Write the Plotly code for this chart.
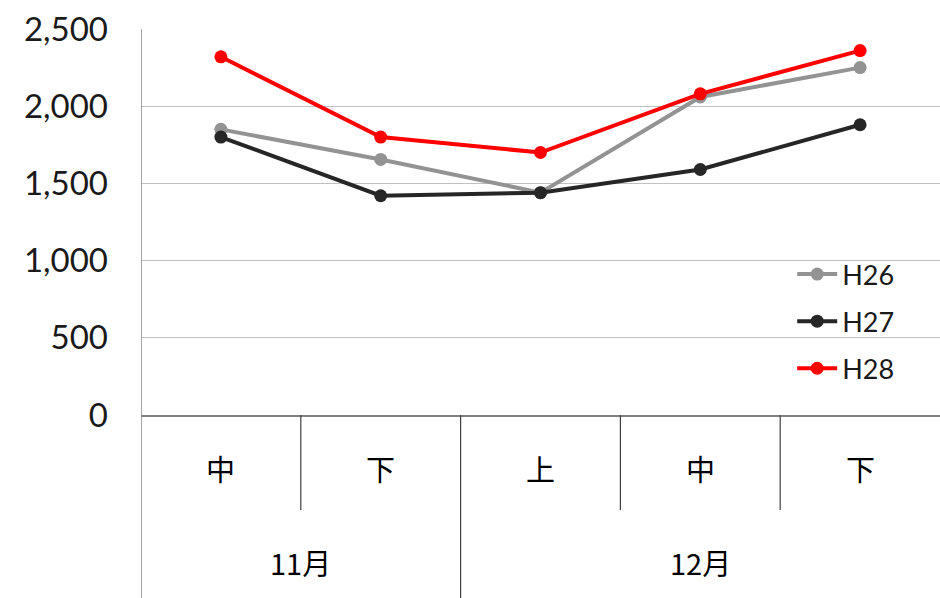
import plotly.graph_objects as go

sub_labels = ["中", "下", "上", "中", "下"]
month_labels = ["11月", "12月"]
month_spans = [(0, 1), (2, 4)]
series_names = ["H26", "H27", "H28"]
h26 = [1850, 1655, 1440, 2060, 2250]
h27 = [1800, 1420, 1440, 1590, 1880]
h28 = [2320, 1800, 1700, 2080, 2360]
colors = ["#939393", "#262626", "#ff0000"]

x = list(range(len(sub_labels)))
fig = go.Figure()
for i, (name, vals) in enumerate(zip(series_names, [h26, h27, h28])):
    fig.add_trace(go.Scatter(
        x=x, y=vals, name=name, mode="lines+markers",
        line=dict(color=colors[i], width=4),
        marker=dict(color=colors[i], size=13),
        legendgroup=name,
    ))

plot_h = 598 - 29 - 183
def py(pix):
    return (415 - pix) / plot_h

shapes = []
annotations = []
for k in range(1, len(sub_labels)):
    full = any(k == s for s, e in month_spans[1:])
    shapes.append(dict(type="line", xref="x", yref="paper", x0=k - 0.5, x1=k - 0.5,
                       y0=0, y1=(-0.6 if full else py(510)),
                       line=dict(color="#404040", width=1.2)))
shapes.append(dict(type="line", xref="x", yref="paper", x0=-0.5, x1=-0.5,
                   y0=1, y1=-0.6, line=dict(color="#888888", width=1.5)))
for i, lab in enumerate(sub_labels):
    annotations.append(dict(x=i, y=py(491), xref="x", yref="paper", text=lab,
                            showarrow=False, font=dict(size=29, color="#000000",
                            family="Noto Sans CJK JP")))
for lab, (s, e) in zip(month_labels, month_spans):
    annotations.append(dict(x=(s + e) / 2, y=py(585), xref="x", yref="paper", text=lab,
                            showarrow=False, font=dict(size=29, color="#000000",
                            family="Noto Sans CJK JP")))

fig.update_layout(
    width=940, height=598,
    margin=dict(l=141, r=0, t=29, b=183),
    paper_bgcolor="white", plot_bgcolor="white",
    showlegend=True,
    legend=dict(x=0.815, y=py(250), xanchor="left", yanchor="top",
                font=dict(size=27, color="#1a1a1a", family="Lato"),
                traceorder="grouped", tracegroupgap=9,
                bgcolor="rgba(255,255,255,0)", itemwidth=40),
    xaxis=dict(range=[-0.5, 4.5], showticklabels=False, showgrid=False,
               zeroline=False, showline=True, linecolor="#808080", linewidth=1.5,
               fixedrange=True),
    yaxis=dict(range=[0, 2500], tickvals=[0, 500, 1000, 1500, 2000, 2500],
               ticktext=["0", "500", "1,000", "1,500", "2,000", "2,500"],
               showgrid=True, gridcolor="#c0c0c0", gridwidth=1.2,
               zeroline=False, showline=False, ticks="",
               tickfont=dict(size=33, color="#1a1a1a", family="Lato"),
               ticklabelstandoff=32),
    shapes=shapes, annotations=annotations,
)
fig.write_html("out.html")
